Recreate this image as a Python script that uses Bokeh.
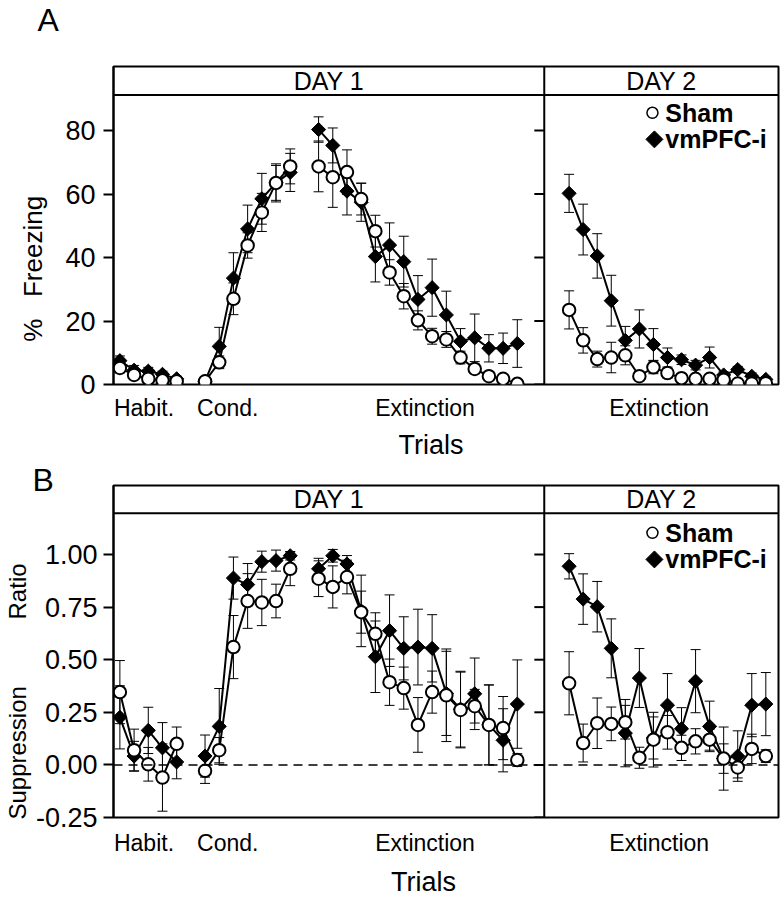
import numpy as np
from bokeh.plotting import figure
from bokeh.models import (Range1d, FixedTicker, NumeralTickFormatter, Span, Whisker,
                          TeeHead, ColumnDataSource, Title)
from bokeh.layouts import column
from bokeh.embed import file_html
from bokeh.resources import INLINE
from bokeh.core.properties import value

FONT = "Liberation Sans"
NB = "\u00a0"

# ------------------------------------------------------------------ data
phase_labels = ["Habit.", "Cond.", "Extinction", "Extinction"]
day_labels = ["DAY 1", "DAY 2"]
series_names = ["Sham", "vmPFC-i"]

# Panel A : % freezing (mean, sem)
a_habit_sham = [5.2, 3.0, 1.8, 1.3, 1.0]
a_habit_sham_err = [1.5, 1.2, 1.0, 0.8, 0.8]
a_habit_vm = [7.5, 4.5, 4.2, 3.2, 1.8]
a_habit_vm_err = [1.5, 1.5, 1.2, 1.0, 0.8]
a_cond_sham = [1.0, 7.0, 27.0, 43.8, 54.2, 63.5, 68.7]
a_cond_sham_err = [0.8, 2.0, 5.0, 4.0, 6.0, 5.5, 5.5]
a_cond_vm = [1.0, 12.0, 33.5, 49.0, 58.5, 63.5, 66.8]
a_cond_vm_err = [0.8, 6.0, 8.0, 7.5, 8.0, 6.0, 6.0]
a_ext1_sham = [68.7, 65.3, 66.9, 58.4, 48.3, 35.3, 27.8, 20.2, 15.2, 14.2, 8.5, 4.9, 2.6, 1.8, 0.2]
a_ext1_sham_err = [8.0, 9.5, 7.0, 5.0, 5.0, 4.0, 4.0, 3.0, 2.5, 2.5, 2.0, 1.5, 1.0, 1.0, 0.5]
a_ext1_vm = [80.3, 75.3, 60.9, 57.4, 40.3, 43.9, 38.7, 26.8, 30.5, 21.9, 13.6, 14.7, 11.4, 11.4, 12.9]
a_ext1_vm_err = [4.0, 5.5, 7.5, 6.0, 8.0, 7.0, 8.0, 7.5, 9.0, 7.5, 4.0, 7.5, 4.3, 4.8, 7.5]
a_ext2_sham = [23.5, 13.9, 8.0, 8.5, 9.2, 2.6, 5.4, 3.6, 2.0, 1.8, 1.8, 1.5, 0.3, 0.3, 0.4]
a_ext2_sham_err = [6.0, 4.0, 2.5, 4.8, 3.0, 1.0, 2.0, 1.5, 1.0, 1.0, 1.0, 1.0, 0.5, 0.5, 0.5]
a_ext2_vm = [60.2, 48.8, 40.5, 26.4, 13.9, 17.5, 12.6, 8.5, 7.8, 6.1, 8.5, 3.0, 4.7, 2.6, 1.6]
a_ext2_vm_err = [6.0, 8.0, 7.0, 8.0, 4.4, 6.0, 5.0, 3.0, 1.5, 1.5, 3.3, 1.0, 1.0, 1.0, 0.8]
a_yticks = [0, 20, 40, 60, 80]

# Panel B : suppression ratio (mean, sem)
b_habit_sham = [0.346, 0.070, 0.003, -0.060, 0.100]
b_habit_sham_err = [0.15, 0.10, 0.08, 0.16, 0.08]
b_habit_vm = [0.226, 0.042, 0.164, 0.081, 0.014]
b_habit_vm_err = [0.15, 0.07, 0.11, 0.12, 0.08]
b_cond_sham = [-0.028, 0.070, 0.560, 0.779, 0.772, 0.779, 0.932]
b_cond_sham_err = [0.06, 0.06, 0.15, 0.13, 0.11, 0.08, 0.08]
b_cond_vm = [0.042, 0.183, 0.888, 0.857, 0.966, 0.971, 0.994]
b_cond_vm_err = [0.10, 0.18, 0.10, 0.10, 0.05, 0.05, 0.02]
b_ext1_sham = [0.885, 0.846, 0.893, 0.726, 0.623, 0.393, 0.365, 0.190, 0.346, 0.331,
               0.261, 0.279, 0.190, 0.175, 0.023]
b_ext1_sham_err = [0.085, 0.10, 0.08, 0.10, 0.10, 0.11, 0.10, 0.13, 0.10, 0.22,
                   0.18, 0.08, 0.19, 0.15, 0.03]
b_ext1_vm = [0.932, 0.994, 0.955, 0.732, 0.514, 0.638, 0.554, 0.560, 0.554, 0.340,
             0.265, 0.338, 0.190, 0.117, 0.289]
b_ext1_vm_err = [0.05, 0.03, 0.04, 0.17, 0.17, 0.17, 0.15, 0.18, 0.16, 0.20,
                 0.18, 0.17, 0.19, 0.15, 0.21]
b_ext2_sham = [0.388, 0.104, 0.198, 0.195, 0.203, 0.034, 0.120, 0.155, 0.081, 0.112,
               0.120, 0.030, -0.012, 0.076, 0.042]
b_ext2_sham_err = [0.15, 0.09, 0.12, 0.08, 0.08, 0.05, 0.13, 0.08, 0.06, 0.06,
                   0.05, 0.07, 0.05, 0.07, 0.03]
b_ext2_vm = [0.944, 0.788, 0.752, 0.554, 0.151, 0.413, 0.128, 0.284, 0.172, 0.398,
             0.183, 0.030, 0.042, 0.284, 0.289]
b_ext2_vm_err = [0.06, 0.12, 0.12, 0.14, 0.16, 0.14, 0.10, 0.15, 0.10, 0.15,
                 0.12, 0.15, 0.12, 0.15, 0.15]
b_yticks = [-0.25, 0.0, 0.25, 0.50, 0.75, 1.00]

# ------------------------------------------------------------------ layout
FRAME_L, FRAME_W = 108, 670
PX_PER_X = 14.3
X0 = -0.45
X1 = X0 + FRAME_W / PX_PER_X
SEP = 29.9                       # Day1 / Day2 boundary
habit_x = np.arange(5)
cond_x = 6 + np.arange(7)
ext1_x = 14 + np.arange(15)
ext2_x = 31.65 + 0.99 * np.arange(15)
phase_pos = [1.7, 7.6, 21.5, 38.0]


def xd(px):
    return X0 + (px - FRAME_L) / PX_PER_X


def make_panel(height, border_top, border_bottom, y0, y1, yticks, header_y, fmt, groups,
               to_y, legend_rows, ylabel, ylabel_size, xlabel, xstandoff,
               xlab_standoff, tick_standoff, ylab_standoff, zero_line=False):
    p = figure(width=782, height=height, x_range=Range1d(X0, X1), y_range=Range1d(y0, y1),
               output_backend="svg", toolbar_location=None,
               min_border_left=FRAME_L, min_border_right=782 - FRAME_L - FRAME_W,
               min_border_top=border_top, min_border_bottom=border_bottom)
    p.grid.visible = False
    p.outline_line_color = "black"
    p.outline_line_width = 2
    p.background_fill_color = "white"
    p.border_fill_color = "white"

    # y axis
    ya = p.yaxis[0]
    ya.ticker = FixedTicker(ticks=yticks)
    if fmt:
        ya.formatter = NumeralTickFormatter(format=fmt)
    ya.major_tick_out = 10
    ya.major_tick_in = 0
    ya.minor_tick_out = 0
    ya.minor_tick_in = 0
    ya.axis_line_width = 2
    ya.major_tick_line_width = 2
    ya.major_label_standoff = tick_standoff
    ya.major_label_text_font = FONT
    ya.major_label_text_font_size = "27px"
    ya.major_label_text_color = "black"
    ya.axis_label = ylabel
    ya.axis_label_standoff = ylab_standoff
    ya.axis_label_text_font = FONT
    ya.axis_label_text_font_size = ylabel_size
    ya.axis_label_text_font_style = "normal"
    ya.axis_label_text_color = "black"

    # x axis : phase labels
    xa = p.xaxis[0]
    xa.ticker = FixedTicker(ticks=phase_pos)
    xa.major_label_overrides = {pos: lab for pos, lab in zip(phase_pos, phase_labels)}
    xa.major_tick_out = 0
    xa.major_tick_in = 0
    xa.minor_tick_out = 0
    xa.minor_tick_in = 0
    xa.axis_line_color = None
    xa.major_label_standoff = xstandoff
    xa.major_label_text_font = FONT
    xa.major_label_text_font_size = "23px"
    xa.major_label_text_color = "black"
    xa.axis_label = xlabel
    xa.axis_label_standoff = xlab_standoff
    xa.axis_label_text_font = FONT
    xa.axis_label_text_font_size = "27px"
    xa.axis_label_text_font_style = "normal"
    xa.axis_label_text_color = "black"

    # header strip and day separator
    p.add_layout(Span(location=header_y, dimension="width", line_color="black", line_width=2))
    p.add_layout(Span(location=SEP, dimension="height", line_color="black", line_width=2))
    tick_len = 10 / PX_PER_X
    p.segment(x0=[SEP - tick_len] * len(yticks), x1=[SEP] * len(yticks), y0=yticks, y1=yticks,
              line_color="black", line_width=2)
    p.text(x=[(X0 + SEP) / 2, (SEP + X1) / 2], y=[(header_y + y1) / 2] * 2, text=day_labels,
           text_font=value(FONT), text_font_size="25px", text_align="center",
           text_baseline="middle", text_color="black")

    if zero_line:
        p.add_layout(Span(location=0, dimension="width", line_color="black", line_width=1.5,
                          line_dash="9 6"))

    # error bars
    for xs, sm, se, vm, ve in groups:
        for m, e in ((vm, ve), (sm, se)):
            m = np.asarray(m, float)
            e = np.asarray(e, float)
            src = ColumnDataSource(dict(x=xs, lo=m - e, hi=m + e))
            p.add_layout(Whisker(source=src, base="x", lower="lo", upper="hi",
                                 dimension="height", line_color="black", line_width=1,
                                 upper_head=TeeHead(size=10, line_width=1, line_color="black"),
                                 lower_head=TeeHead(size=10, line_width=1, line_color="black")))
    # lines
    for xs, sm, se, vm, ve in groups:
        p.line(xs, vm, line_color="black", line_width=2)
        p.line(xs, sm, line_color="black", line_width=2)
    # markers
    for xs, sm, se, vm, ve in groups:
        p.scatter(xs, vm, marker="square", angle=np.pi / 4, size=10,
                  fill_color="black", line_color="black", line_width=1)
        p.scatter(xs, sm, marker="circle", size=12.5, fill_color="white",
                  line_color="black", line_width=2)

    # legend (drawn by hand so the diamond keeps its orientation)
    (cy_s, cy_v) = legend_rows
    p.scatter([xd(651)], [to_y(cy_s)], marker="circle", size=11, fill_color="white",
              line_color="black", line_width=1.5)
    p.scatter([xd(653)], [to_y(cy_v)], marker="square", angle=np.pi / 4, size=12,
              fill_color="black", line_color="black")
    p.text(x=[xd(664), xd(664)], y=[to_y(cy_s), to_y(cy_v)], text=series_names,
           text_font=value(FONT), text_font_size="25px", text_font_style="bold",
           text_align="left", text_baseline="middle", text_color="black")
    return p


def ya_(py):
    return (389 - py) / 3.225


def yb_(py):
    return -0.25 + (822 - py) / 213.6


groups_a = [
    (habit_x, a_habit_sham, a_habit_sham_err, a_habit_vm, a_habit_vm_err),
    (cond_x, a_cond_sham, a_cond_sham_err, a_cond_vm, a_cond_vm_err),
    (ext1_x, a_ext1_sham, a_ext1_sham_err, a_ext1_vm, a_ext1_vm_err),
    (ext2_x, a_ext2_sham, a_ext2_sham_err, a_ext2_vm, a_ext2_vm_err),
]
groups_b = [
    (habit_x, b_habit_sham, b_habit_sham_err, b_habit_vm, b_habit_vm_err),
    (cond_x, b_cond_sham, b_cond_sham_err, b_cond_vm, b_cond_vm_err),
    (ext1_x, b_ext1_sham, b_ext1_sham_err, b_ext1_vm, b_ext1_vm_err),
    (ext2_x, b_ext2_sham, b_ext2_sham_err, b_ext2_vm, b_ext2_vm_err),
]

# non-breaking spaces pad the axis titles so they sit where the reference has them
pa = make_panel(462, 66, 73, 0, 100.16, a_yticks, ya_(95), None, groups_a, ya_, (113, 140),
                "%" + NB * 3 + "Freezing" + NB * 12, "26px", "Trials" + NB * 4,
                xstandoff=10, xlab_standoff=6, tick_standoff=8, ylab_standoff=14)
# a second (empty) line makes the title box tall enough to lift the letter to the top
pa.add_layout(Title(text="A\n", align="left", offset=-76, standoff=0, vertical_align="top",
                    text_font=FONT, text_font_size="32px", text_font_style="normal",
                    text_line_height=0.75, text_color="black"), "above")

pb = make_panel(437, 23, 77, -0.25, 1.328, b_yticks, yb_(513), "0.00", groups_b, yb_,
                (533, 560), "Suppression" + NB * 10 + "Ratio" + NB * 12, "24px",
                "Trials" + NB * 6, xstandoff=12, xlab_standoff=8, tick_standoff=6,
                ylab_standoff=2, zero_line=True)
pb.add_layout(Title(text="B", align="left", offset=-81, standoff=-24, vertical_align="bottom",
                    text_font=FONT, text_font_size="32px", text_font_style="normal",
                    text_color="black"), "above")

layout = column(pa, pb, spacing=0)
open("out.html", "w").write(file_html(layout, INLINE))
